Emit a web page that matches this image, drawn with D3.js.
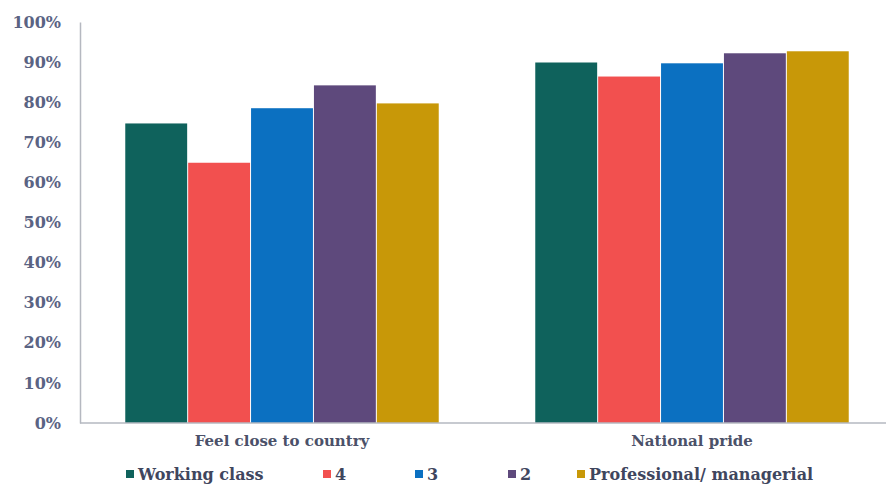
<!DOCTYPE html>
<html><head><meta charset="utf-8">
<script src="https://cdn.jsdelivr.net/npm/d3@7"></script>
<style>body{margin:0;background:#fff}svg{display:block}</style>
</head><body>
<script>
const categories = ["Feel close to country", "National pride"];
const seriesNames = ["Working class", "4", "3", "2", "Professional/ managerial"];
const seriesColors = ["#0f625c", "#f2504f", "#0b70c1", "#5e497c", "#c89808"];
const workingClass = [0.747, 0.899];
const s4 = [0.649, 0.864];
const s3 = [0.785, 0.897];
const s2 = [0.842, 0.922];
const professional = [0.797, 0.927];
const yTicks = [0, 0.1, 0.2, 0.3, 0.4, 0.5, 0.6, 0.7, 0.8, 0.9, 1.0];

const values = [workingClass, s4, s3, s2, professional];
const W = 886, H = 484;
const svg = d3.select("body").append("svg").attr("width", W).attr("height", H);
const font = "'DejaVu Serif', 'Liberation Serif', serif";

const y = d3.scaleLinear().domain([0, 1]).range([423, 22]);
const x0 = d3.scaleBand().domain(categories).range([77, 897]).paddingInner(0).paddingOuter(0);
const innerW = x0.bandwidth() * 0.767;
const x1 = d3.scaleBand().domain(seriesNames).range([0, innerW]).padding(0);

// bars
const g = svg.append("g");
categories.forEach((c, ci) => {
  const gx = x0(c) + (x0.bandwidth() - innerW) / 2;
  seriesNames.forEach((s, si) => {
    const v = values[si][ci];
    g.append("rect")
      .attr("x", gx + x1(s) + 0.5)
      .attr("width", x1.bandwidth() - 1)
      .attr("y", y(v))
      .attr("height", y(0) - y(v))
      .attr("fill", seriesColors[si]);
  });
});

// y axis
const yAxis = d3.axisLeft(y).tickValues(yTicks).tickFormat(d3.format(".0%")).tickSize(0).tickPadding(19);
const ya = svg.append("g").attr("transform", "translate(80,0)").call(yAxis);
ya.select(".domain").attr("stroke", "#b5b8c0").attr("stroke-width", 1.5);
ya.selectAll("text").attr("font-family", font).attr("font-weight", "bold")
  .attr("font-size", 16).attr("fill", "#5a6383");

// x axis
const xAxis = d3.axisBottom(x0).tickSize(0).tickPadding(12);
const xa = svg.append("g").attr("transform", "translate(0,423)").call(xAxis);
xa.select(".domain").attr("d", "M80,0H886").attr("stroke", "#b5b8c0").attr("stroke-width", 1.5);
xa.selectAll("text").attr("font-family", font).attr("font-weight", "bold")
  .attr("font-size", 15).attr("fill", "#4b5169");

// legend
const legX = [126, 323, 415, 508, 577];
const leg = svg.append("g");
seriesNames.forEach((s, i) => {
  leg.append("rect").attr("x", legX[i]).attr("y", 470).attr("width", 8).attr("height", 8).attr("fill", seriesColors[i]);
  leg.append("text").attr("x", legX[i] + 12).attr("y", 480).text(s)
    .attr("font-family", font).attr("font-weight", "bold").attr("font-size", 16).attr("fill", "#3f465e");
});
</script>
</body></html>
